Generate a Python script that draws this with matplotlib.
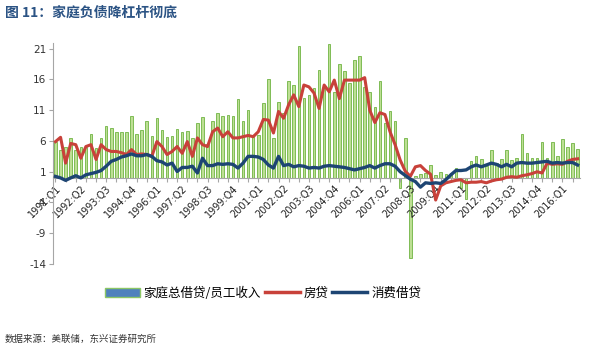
import numpy as np
import matplotlib.pyplot as plt
from matplotlib.patches import Patch
from matplotlib.lines import Line2D

plt.rcParams['font.family'] = ['DejaVu Sans', 'Noto Sans CJK SC']
plt.rcParams['axes.unicode_minus'] = False

# quarterly categories 1991:Q1 .. 2016:Q4
quarters = [f"{1991 + k // 4}:Q{k % 4 + 1}" for k in range(104)]

# household total borrowing / employee income (bars)
debt_income = [5.9, 4.6, 5.0, 6.5, 4.6, 5.1, 5.0, 7.2, 4.8, 6.5,
               8.4, 8.1, 7.5, 7.5, 7.5, 10.1, 7.2, 7.8, 9.2, 6.8,
               9.7, 7.8, 6.7, 6.8, 8.0, 7.4, 7.6, 6.5, 9.0, 9.9,
               5.5, 9.2, 10.5, 10.0, 10.2, 10.1, 12.9, 9.2, 11.1, 6.6,
               7.0, 12.1, 16.0, 6.5, 12.4, 10.5, 15.8, 15.1, 21.5, 13.0,
               13.5, 14.6, 17.6, 15.0, 21.8, 14.0, 18.5, 17.3, 15.5, 19.1,
               19.8, 14.8, 14.0, 11.6, 15.8, 9.0, 10.8, 9.2, -1.6, 6.5,
               -13.0, 0.3, 0.6, 0.8, 2.1, 0.4, 1.0, 0.6, 0.8, 1.6,
               -1.7, -3.5, 2.7, 3.5, 3.0, 2.0, 4.6, 2.4, 3.0, 4.6,
               2.9, 3.2, 7.1, 4.1, 3.2, 3.2, 5.8, 3.2, 5.8, 3.5,
               6.3, 5.1, 5.6, 4.7]

# mortgage
mortgage = [5.9, 6.6, 2.4, 5.6, 5.4, 3.2, 5.1, 5.4, 3.0, 5.4,
            4.6, 4.3, 4.3, 4.1, 3.8, 4.6, 3.8, 3.9, 3.8, 3.5,
            5.9, 5.1, 3.8, 4.3, 5.1, 4.0, 5.9, 3.5, 6.5, 5.4,
            5.1, 7.5, 8.1, 6.7, 7.5, 6.5, 6.5, 6.7, 6.9, 6.7,
            7.5, 9.5, 9.4, 7.3, 10.8, 9.7, 11.9, 13.5, 11.6, 15.1,
            14.8, 13.8, 11.3, 15.1, 14.0, 15.9, 12.9, 15.9, 15.9, 15.9,
            15.9, 16.3, 11.0, 9.0, 10.6, 10.3, 7.5, 5.4, 2.9, 1.1,
            0.25, 1.8, 2.0, 1.2, 0.6, -3.6, -1.3, -0.8, -0.6, -0.4,
            -0.3, -0.8, -0.7, -0.7, -0.6, -0.8, -0.5, -0.3, -0.2, 0.1,
            0.2, 0.1, 0.35, 0.5, 0.7, 1.0, 0.8, 2.4, 2.2, 2.3,
            2.2, 2.7, 3.0, 3.1]

# consumer credit
consumer = [0.24, 0.0, -0.4, 0.0, 0.35, 0.0, 0.5, 0.7, 0.9, 1.2,
            1.9, 2.7, 3.0, 3.4, 3.6, 3.9, 3.6, 3.6, 3.8, 3.5,
            2.8, 2.6, 2.1, 2.4, 1.05, 1.7, 1.7, 1.9, 0.8, 3.2,
            2.0, 2.0, 2.3, 2.2, 2.3, 2.2, 1.6, 2.4, 3.5, 3.5,
            3.4, 3.0, 2.1, 1.6, 3.5, 2.0, 2.2, 1.8, 2.0, 1.9,
            1.6, 1.7, 1.6, 1.9, 2.0, 1.9, 1.8, 1.7, 1.5, 1.3,
            1.5, 1.7, 2.0, 1.6, 2.0, 2.3, 2.3, 1.9, 1.0, 0.4,
            -0.2, -0.6, -1.5, -0.8, -0.9, -0.8, -0.9, -0.3, 0.5, 1.2,
            1.2, 1.3, 1.8, 2.1, 1.8, 2.1, 2.4, 2.2, 1.8, 2.2,
            1.8, 2.4, 2.5, 2.4, 2.4, 2.5, 2.6, 2.7, 2.4, 2.5,
            2.4, 2.5, 2.5, 2.1]

labels = ['家庭总借贷/员工收入', '房贷', '消费借贷']
red = '#c8413a'
blue = '#1d4573'
grey = '#a6a6a6'

fig = plt.figure(figsize=(5.95, 3.52), dpi=100)
ax = fig.add_axes([0.089, 0.25, 0.886, 0.629])

x = np.arange(len(quarters))
ax.bar(x, debt_income, width=0.5, color='#bddf94', edgecolor='#70b443',
       linewidth=0.6, zorder=1)
ax.plot(x, mortgage, color=red, lw=2.2, zorder=3)
ax.plot(x, consumer, color=blue, lw=2.4, zorder=4)

ax.set_xlim(-0.5, len(quarters) - 0.5)
ax.set_ylim(-14, 22)
ax.set_yticks(np.arange(-14, 22, 5))

ax.spines['bottom'].set_position(('data', 0))
ax.spines['top'].set_visible(False)
ax.spines['right'].set_visible(False)
ax.spines['left'].set_color(grey)
ax.spines['bottom'].set_color(grey)

# ticks every 2 quarters, labels every 5
ax.xaxis.remove_overlapping_locs = False
ax.set_xticks(x[::2])
ax.set_xticklabels([])
ax.set_xticks(x[::5], minor=True)
ax.set_xticklabels(quarters[::5], minor=True, rotation=45, ha='right',
                   rotation_mode='anchor', fontsize=7, color='#222222')
ax.tick_params(axis='x', which='major', length=3, color=grey)
ax.tick_params(axis='x', which='minor', length=0, pad=4)
ax.tick_params(axis='y', length=3, color=grey, labelsize=7.5,
               labelcolor='#333333', pad=2)

handles = [Patch(facecolor='#4f81bd', edgecolor='#8cc665'),
           Line2D([], [], color=red, lw=2.5),
           Line2D([], [], color=blue, lw=2.5)]
fig.legend(handles, labels, loc='center', bbox_to_anchor=(263 / 595, 1 - 293 / 352),
           ncol=3, frameon=False, handlelength=2.8, handletextpad=0.3,
           columnspacing=0.3, prop={'family': ['Noto Sans CJK SC'], 'size': 9})

fig.text(5 / 595, 1 - 13 / 352, '图 11：家庭负债降杠杆彻底', fontsize=10,
         fontweight='bold', color='#2b5384', va='center', ha='left',
         family=['Noto Sans CJK SC'])
fig.text(5 / 595, 1 - 339 / 352, '数据来源：美联储，东兴证券研究所', fontsize=6.8,
         color='#333333', va='center', ha='left', style='italic',
         family=['Noto Sans CJK SC'])

fig.savefig('out.png', dpi=100)
